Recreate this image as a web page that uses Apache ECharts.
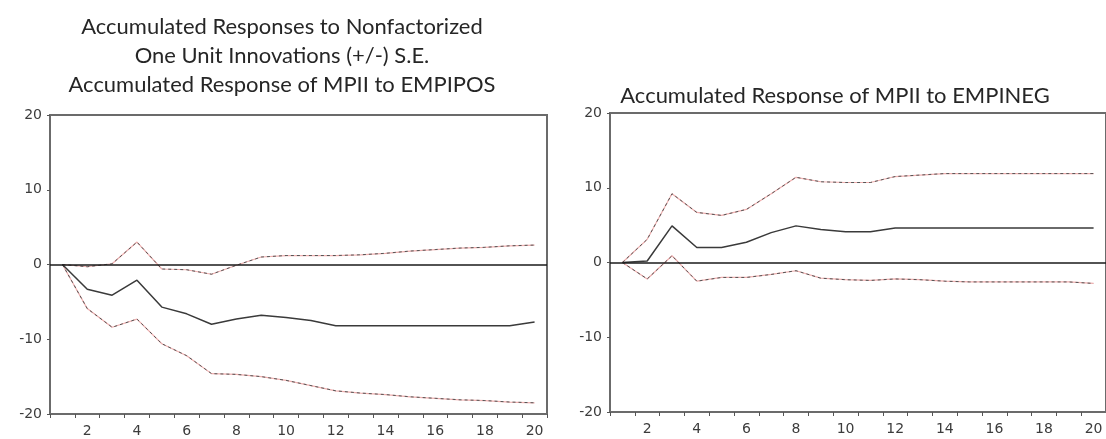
<!DOCTYPE html>
<html>
<head>
<meta charset="utf-8">
<script src="https://cdn.jsdelivr.net/npm/echarts@6/dist/echarts.min.js"></script>
<style>
  html, body { margin: 0; padding: 0; background: #ffffff; }
  #chart { width: 1106px; height: 439px; }
</style>
</head>
<body>
<div id="chart"></div>
<script>
// Forecast horizon (periods after the shock)
const periods = ['1','2','3','4','5','6','7','8','9','10','11','12','13','14','15','16','17','18','19','20'];

// Accumulated response of MPII to EMPIPOS, with +/- 2 S.E. bands
const posResponse = [0, -3.3, -4.1, -2.1, -5.7, -6.6, -8.0, -7.3, -6.8, -7.1, -7.5, -8.2, -8.2, -8.2, -8.2, -8.2, -8.2, -8.2, -8.2, -7.7];
const posUpper    = [0, -0.3, 0.1, 3.0, -0.6, -0.7, -1.3, -0.1, 1.0, 1.2, 1.2, 1.2, 1.3, 1.5, 1.8, 2.0, 2.2, 2.3, 2.5, 2.6];
const posLower    = [0, -5.9, -8.4, -7.3, -10.6, -12.2, -14.6, -14.7, -15.0, -15.5, -16.2, -16.9, -17.2, -17.4, -17.7, -17.9, -18.1, -18.2, -18.4, -18.5];

// Accumulated response of MPII to EMPINEG, with +/- 2 S.E. bands
const negResponse = [0, 0.2, 4.9, 2.0, 2.0, 2.7, 4.0, 4.9, 4.4, 4.1, 4.1, 4.6, 4.6, 4.6, 4.6, 4.6, 4.6, 4.6, 4.6, 4.6];
const negUpper    = [0, 3.1, 9.2, 6.7, 6.3, 7.1, 9.2, 11.4, 10.8, 10.7, 10.7, 11.5, 11.7, 11.9, 11.9, 11.9, 11.9, 11.9, 11.9, 11.9];
const negLower    = [0, -2.2, 0.9, -2.5, -2.0, -2.0, -1.6, -1.1, -2.1, -2.3, -2.4, -2.2, -2.3, -2.5, -2.6, -2.6, -2.6, -2.6, -2.6, -2.8];

const yMin = -20, yMax = 20, yStep = 10;

const headingLines = [
  'Accumulated Responses to Nonfactorized',
  'One Unit Innovations (+/-) S.E.',
  'Accumulated Response of MPII to EMPIPOS'
];
const negHeading = 'Accumulated Response of MPII to EMPINEG';

// Size the heading font so the panel caption spans its intended width
function fitFont(text, family, targetWidth) {
  const ctx = document.createElement('canvas').getContext('2d');
  ctx.font = '20px ' + family;
  return 20 * targetWidth / ctx.measureText(text).width;
}
const headFamily = 'Lato';
const headSize = fitFont(headingLines[2], headFamily, 427);

const tickFont = { fontFamily: 'DejaVu Sans', fontSize: 14, color: '#3c3c3c' };
const frameColor = '#6b6b6b';

const panels = [
  { left: 50,  top: 115, up: posUpper, mid: posResponse, low: posLower },
  { left: 610, top: 113, up: negUpper, mid: negResponse, low: negLower }
];

const grids = [], xAxes = [], yAxes = [], series = [];
panels.forEach((p, i) => {
  grids.push({
    left: p.left, top: p.top, width: 497, height: 299,
    show: true, borderColor: frameColor, borderWidth: 2, backgroundColor: 'transparent',
    containLabel: false
  });
  xAxes.push({
    type: 'category', gridIndex: i, data: periods, boundaryGap: true,
    axisLine: { show: true, onZero: false, lineStyle: { color: frameColor, width: 2 } },
    axisTick: { show: true, interval: 0, length: 4, lineStyle: { color: '#555', width: 1 } },
    axisLabel: Object.assign({ interval: (idx) => idx % 2 === 1, margin: 10 }, tickFont),
    splitLine: { show: false }
  });
  yAxes.push({
    type: 'value', gridIndex: i, min: yMin, max: yMax, interval: yStep,
    axisLine: { show: true, lineStyle: { color: frameColor, width: 2 } },
    axisTick: { show: true, length: 3, lineStyle: { color: '#555', width: 1 } },
    axisLabel: Object.assign({ margin: 8 }, tickFont),
    splitLine: { show: false }
  });
  const bandLines = [p.up, p.low];
  bandLines.forEach((vals) => {
    // faint red trace underneath
    series.push({
      type: 'line', xAxisIndex: i, yAxisIndex: i, data: vals, symbol: 'none',
      lineStyle: { color: 'rgba(226,110,110,0.55)', width: 1.2 }, z: 2, silent: true
    });
    // dark dashes on top
    series.push({
      type: 'line', xAxisIndex: i, yAxisIndex: i, data: vals, symbol: 'none',
      lineStyle: { color: '#555', width: 1, type: [3, 3] }, z: 3, silent: true
    });
  });
  series.push({
    type: 'line', xAxisIndex: i, yAxisIndex: i, data: p.mid, symbol: 'none',
    lineStyle: { color: '#3a3a3a', width: 1.5 }, z: 4, silent: true,
    markLine: {
      silent: true, symbol: 'none', label: { show: false },
      lineStyle: { color: '#1a1a1a', width: 1.5, type: 'solid' },
      data: [{ yAxis: 0 }]
    }
  });
});

const graphics = [];
headingLines.forEach((line, k) => {
  graphics.push({
    type: 'text', x: 282, y: 27 + k * 29, z: 10,
    style: { text: line, align: 'center', verticalAlign: 'middle',
             font: headSize.toFixed(2) + 'px ' + headFamily, fill: '#262626' }
  });
});
graphics.push({
  type: 'text', x: 835, y: 96, z: 10,
  style: { text: negHeading, align: 'center', verticalAlign: 'middle',
           font: headSize.toFixed(2) + 'px ' + headFamily, fill: '#262626' }
});
// the EMPINEG caption sits partly behind the panel's white top margin
graphics.push({
  type: 'rect', z: 11, silent: true,
  shape: { x: 614, y: 103.5, width: 492, height: 8.5 },
  style: { fill: '#ffffff' }
});

const chart = echarts.init(document.getElementById('chart'), null, { renderer: 'canvas' });
chart.setOption({
  animation: false,
  backgroundColor: '#ffffff',
  grid: grids,
  xAxis: xAxes,
  yAxis: yAxes,
  series: series,
  graphic: graphics
});
</script>
</body>
</html>
